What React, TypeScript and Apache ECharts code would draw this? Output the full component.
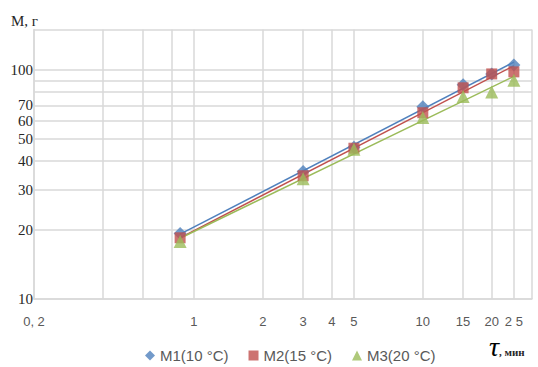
import React, { useEffect, useRef } from "react";
import * as echarts from "echarts";

const tau = [0.87, 3, 5, 10, 15, 20, 25];
const m1 = [19.3, 36, 46, 69, 86, 96, 105];
const m2 = [18.5, 34.5, 45.5, 65, 83.5, 96, 98];
const m3 = [17.8, 33.5, 45, 62, 76.5, 80, 90];
const seriesNames = ["M1(10 °C)", "M2(15 °C)", "M3(20 °C)"];
const seriesColors = ["#4F81BD", "#C0504D", "#9BBB59"];
const seriesSymbols = ["diamond", "rect", "triangle"];

const xGridValues = [0.2, 0.4, 0.6, 0.8, 1, 2, 3, 4, 5, 10, 15, 20, 25, 30];
const xLabelValues = [0.2, 1, 2, 3, 4, 5, 10, 15, 20, 25];
const xLabelTexts = ["0, 2", "1", "2", "3", "4", "5", "10", "15", "20", "2 5"];
const yGridValues = [10, 20, 30, 40, 50, 60, 70, 80, 90, 100, 150];
const yLabelValues = [10, 20, 30, 40, 50, 60, 70, 100];

function powerFit(xs: number[], ys: number[]) {
  const lx = xs.map(Math.log);
  const ly = ys.map(Math.log);
  const n = xs.length;
  const mx = lx.reduce((a, b) => a + b, 0) / n;
  const my = ly.reduce((a, b) => a + b, 0) / n;
  let sxy = 0;
  let sxx = 0;
  for (let i = 0; i < n; i++) {
    sxy += (lx[i] - mx) * (ly[i] - my);
    sxx += (lx[i] - mx) * (lx[i] - mx);
  }
  const b = sxy / sxx;
  const a = Math.exp(my - b * mx);
  const x0 = xs[0];
  const x1 = xs[n - 1];
  return [
    [x0, a * Math.pow(x0, b)],
    [x1, a * Math.pow(x1, b)],
  ];
}

function xLabel(v: number) {
  const i = xLabelValues.findIndex((a) => Math.abs(a - v) / a < 1e-6);
  return i >= 0 ? xLabelTexts[i] : "";
}

export default function App() {
  const ref = useRef<HTMLDivElement>(null);
  useEffect(() => {
    if (!ref.current) return;
    const chart = echarts.init(ref.current, undefined, { renderer: "svg" });
    const data = [m1, m2, m3];
    const sizes = [13, 11, 13];
    const series: any[] = [];
    data.forEach((ys, i) => {
      series.push({
        type: "line",
        name: seriesNames[i] + " trend",
        data: powerFit(tau, ys),
        showSymbol: false,
        symbol: "none",
        silent: true,
        lineStyle: { color: seriesColors[i], width: 1.5 },
        z: 2,
      });
    });
    data.forEach((ys, i) => {
      series.push({
        type: "scatter",
        name: seriesNames[i],
        symbol: seriesSymbols[i],
        symbolSize: sizes[i],
        itemStyle: { color: seriesColors[i] },
        data: tau.map((t, j) => [t, ys[j]]),
        z: 3 + i,
      });
    });
    chart.setOption({
      animation: false,
      backgroundColor: "#ffffff",
      grid: { left: 34, right: 6, top: 29.5, bottom: 68, containLabel: false },
      xAxis: {
        type: "log",
        logBase: 10,
        min: 0.2,
        max: 30,
        axisLine: { show: true, lineStyle: { color: "#d9d9d9", width: 1.5 } },
        axisTick: { show: false, customValues: xGridValues },
        splitLine: { show: true, lineStyle: { color: "#d9d9d9", width: 1.5 } },
        minorSplitLine: { show: false },
        axisLabel: {
          customValues: xLabelValues,
          formatter: (v: number) => xLabel(v),
          margin: 16,
          color: "#595959",
          fontFamily: "Liberation Sans",
          fontSize: 13,
        },
      },
      yAxis: {
        type: "log",
        logBase: 10,
        min: 10,
        max: 150,
        axisLine: { show: true, lineStyle: { color: "#d9d9d9", width: 1.5 } },
        axisTick: { show: false, customValues: yGridValues },
        splitLine: { show: true, lineStyle: { color: "#d9d9d9", width: 1.5 } },
        axisLabel: {
          customValues: yLabelValues,
          formatter: (v: number) => String(Math.round(v)),
          margin: 1,
          color: "#262626",
          fontFamily: "Liberation Serif",
          fontSize: 15,
        },
      },
      legend: {
        data: seriesNames.map((n, i) => ({ name: n, icon: seriesSymbols[i] })),
        top: 343,
        left: 140,
        itemWidth: 10,
        itemHeight: 10,
        itemGap: 20,
        textStyle: { color: "#595959", fontFamily: "Liberation Sans", fontSize: 15 },
      },
      graphic: [
        {
          type: "text",
          left: 11,
          top: 13,
          style: {
            text: "M, г",
            fill: "#262626",
            font: "15px 'Liberation Serif'",
          },
        },
        {
          type: "text",
          left: 489,
          top: 332,
          style: {
            text: "{t|τ}{s|, мин}",
            rich: {
              t: { fontFamily: "Liberation Serif", fontStyle: "italic", fontSize: 28, fill: "#000000" },
              s: { fontFamily: "Liberation Serif", fontSize: 11, fontWeight: "bold", fill: "#262626", padding: [12, 0, 0, 0] },
            },
          },
        },
      ],
      series,
    });
    return () => chart.dispose();
  }, []);
  return <div ref={ref} style={{ width: 538, height: 367, position: "absolute", left: 0, top: 0 }} />;
}
